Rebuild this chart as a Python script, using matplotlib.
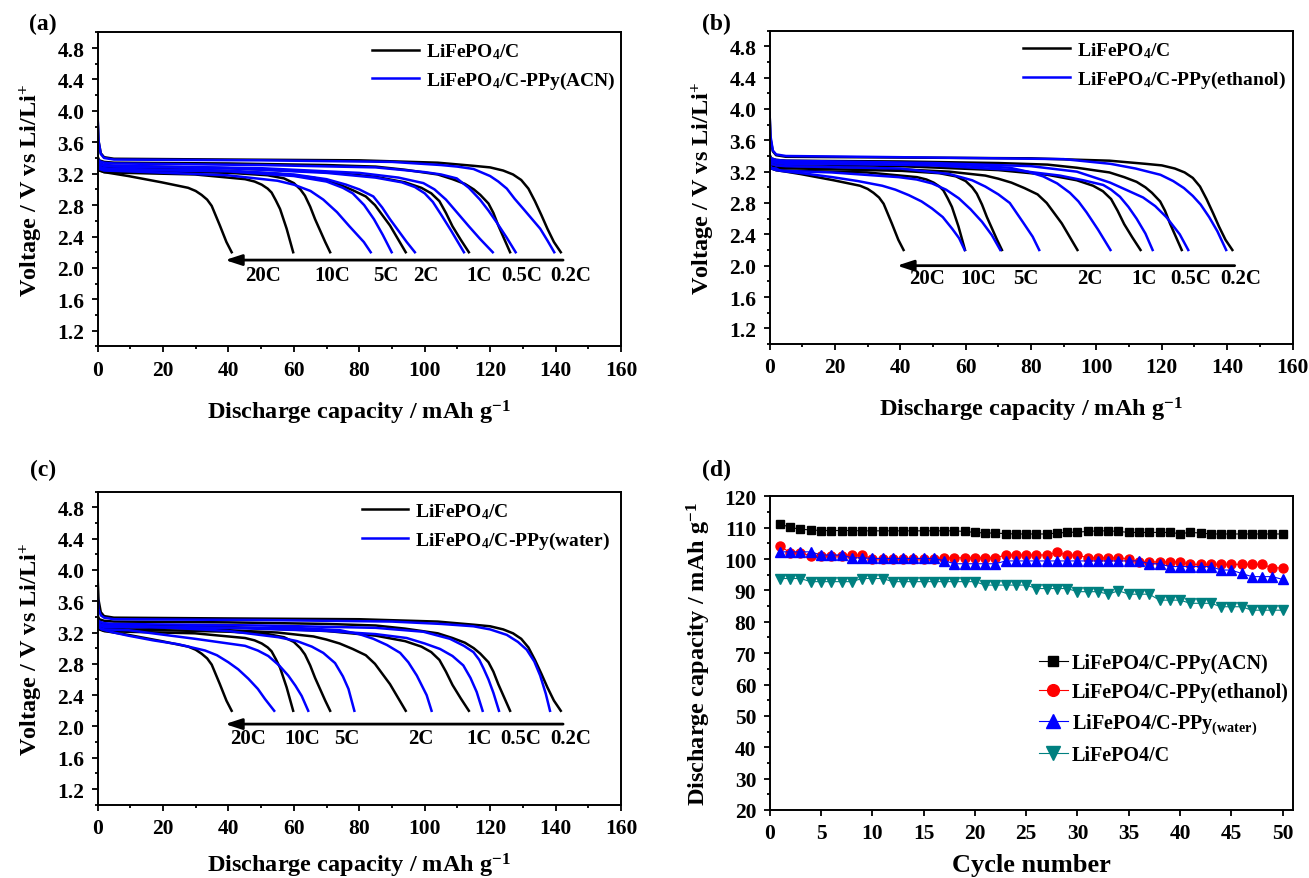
import matplotlib
matplotlib.use("Agg")
import matplotlib.pyplot as plt
from matplotlib.ticker import MultipleLocator

plt.rcParams['font.family'] = ['Liberation Serif', 'DejaVu Serif']
plt.rcParams['font.weight'] = 'bold'
plt.rcParams['axes.labelweight'] = 'bold'
plt.rcParams['mathtext.fontset'] = 'custom'
plt.rcParams['mathtext.rm'] = 'Liberation Serif:bold'
plt.rcParams['mathtext.it'] = 'Liberation Serif:italic:bold'
plt.rcParams['mathtext.bf'] = 'Liberation Serif:bold'

# ---- discharge curves: (capacity mAh/g, voltage V) ----
# bare LiFePO4/C, shared by panels a-c
lfp_02c = [(0, 3.95), (0.3, 3.62), (1, 3.46), (2, 3.41), (5, 3.39), (40, 3.38), (80, 3.37),
           (104, 3.34), (115, 3.30), (120, 3.28), (124, 3.24), (127, 3.19), (129.5, 3.12),
           (131.7, 3.01), (133.7, 2.85), (135.7, 2.67), (137.5, 2.50), (139.5, 2.33), (141.6, 2.20)]
lfp_05c = [(0, 3.42), (0.5, 3.37), (2, 3.35), (5, 3.34), (40, 3.33), (70, 3.31), (85, 3.29),
           (94, 3.25), (104, 3.19), (108.5, 3.13), (112.3, 3.07), (115, 3.00), (117, 2.93),
           (119.5, 2.82), (121, 2.70), (122.5, 2.54), (124.3, 2.37), (126.1, 2.20)]
lfp_1c = [(0, 3.38), (0.5, 3.33), (2, 3.31), (5, 3.30), (40, 3.27), (70, 3.22), (85, 3.16),
          (94, 3.09), (99, 3.02), (102, 2.95), (104.5, 2.85), (106.5, 2.70), (108.5, 2.53),
          (111, 2.36), (113.5, 2.20)]
lfp_2c = [(0, 3.35), (0.5, 3.30), (2, 3.28), (5, 3.27), (30, 3.25), (55, 3.20), (66, 3.15),
          (70, 3.11), (74, 3.06), (78, 2.99), (82, 2.91), (84.8, 2.80), (89.4, 2.54), (94.2, 2.20)]
lfp_5c = [(0, 3.32), (0.5, 3.27), (2, 3.25), (9, 3.24), (40.6, 3.21), (52, 3.18), (57, 3.14),
          (60, 3.08), (62, 3.00), (63.4, 2.92), (65, 2.78), (66.5, 2.62), (68, 2.48),
          (69.6, 2.33), (71.1, 2.20)]
lfp_10c = [(0, 3.30), (0.5, 3.24), (2, 3.22), (9, 3.21), (29.8, 3.19), (45.1, 3.13), (48, 3.10),
           (50.2, 3.06), (52, 3.01), (53.2, 2.96), (54.5, 2.86), (55.8, 2.75), (57.8, 2.50),
           (59.8, 2.20)]
lfp_20c = [(0, 3.30), (0.5, 3.25), (2, 3.22), (5, 3.20), (9.4, 3.17), (19.6, 3.09), (27.7, 3.02),
           (30, 2.98), (31.8, 2.93), (33.5, 2.87), (34.9, 2.79), (36, 2.68), (37.4, 2.54),
           (39.4, 2.33), (41.0, 2.20)]

# LiFePO4/C-PPy (ACN)
acn_02c = [(0, 3.97), (0.3, 3.62), (1, 3.45), (2, 3.40), (5, 3.38), (50, 3.37), (90, 3.35),
           (105, 3.31), (110, 3.29), (114.9, 3.26), (120, 3.17), (122.5, 3.10), (125.1, 3.01),
           (127.5, 2.88), (130.2, 2.75), (135.3, 2.50), (137.5, 2.35), (139.6, 2.20)]
acn_05c = [(0, 3.40), (0.5, 3.36), (2, 3.34), (5, 3.33), (50, 3.31), (85, 3.28), (100, 3.22),
           (105, 3.19), (109.8, 3.14), (113.5, 3.02), (116.9, 2.87), (119.5, 2.73), (122, 2.58),
           (125, 2.39), (127.8, 2.20)]
acn_1c = [(0, 3.37), (0.5, 3.33), (2, 3.31), (5, 3.30), (50, 3.27), (80, 3.21), (92, 3.15),
          (99.6, 3.08), (103, 3.00), (106.5, 2.87), (109.8, 2.71), (113.5, 2.53), (116.9, 2.37),
          (120.8, 2.20)]
acn_2c = [(0, 3.36), (0.5, 3.32), (2, 3.30), (5, 3.29), (40, 3.27), (70, 3.21), (85, 3.15),
          (93, 3.09), (97, 3.03), (100, 2.95), (102.5, 2.84), (105, 2.68), (108, 2.48),
          (110, 2.34), (112, 2.20)]
acn_5c = [(0, 3.33), (0.5, 3.29), (2, 3.27), (5, 3.26), (40, 3.24), (60, 3.19), (70, 3.13),
          (76, 3.06), (80, 3.00), (84.3, 2.91), (87, 2.77), (89.4, 2.62), (94.5, 2.33), (97, 2.20)]
acn_10c = [(0, 3.31), (0.5, 3.27), (2, 3.25), (5, 3.25), (39.7, 3.23), (60, 3.17), (70, 3.10),
           (75, 3.02), (78, 2.95), (81.5, 2.80), (84.5, 2.62), (87.2, 2.42), (89.9, 2.20)]
acn_20c = [(0, 3.30), (0.5, 3.26), (2, 3.24), (9.2, 3.23), (39.7, 3.18), (55, 3.11), (60, 3.06),
           (65.1, 2.98), (69, 2.87), (73.2, 2.71), (77, 2.53), (81.4, 2.33), (83.5, 2.20)]

# LiFePO4/C-PPy (ethanol)
eth_02c = [(0, 3.95), (0.3, 3.65), (1, 3.47), (2, 3.42), (5, 3.40), (50, 3.38), (90, 3.36),
           (104.3, 3.30), (112, 3.24), (119.6, 3.16), (123.5, 3.08), (126.8, 2.99), (129.5, 2.89),
           (131.9, 2.78), (134.5, 2.62), (137, 2.44), (139.7, 2.20)]
eth_05c = [(0, 3.40), (0.5, 3.37), (2, 3.35), (5, 3.34), (50, 3.31), (80, 3.27), (94, 3.20),
           (104.2, 3.06), (109, 2.97), (114.3, 2.87), (118, 2.76), (121.4, 2.62), (125.5, 2.40),
           (128.1, 2.20)]
eth_1c = [(0, 3.38), (0.5, 3.35), (2, 3.33), (5, 3.32), (50, 3.28), (75, 3.22), (88.8, 3.15),
          (96, 3.09), (102.1, 3.03), (104.5, 2.97), (107.2, 2.88), (109.8, 2.75), (112.3, 2.60),
          (115, 2.41), (117.2, 2.20)]
eth_2c = [(0, 3.36), (0.5, 3.33), (2, 3.31), (5, 3.30), (40, 3.29), (60, 3.28), (73.5, 3.25),
          (79, 3.20), (83.7, 3.14), (88, 3.05), (91.9, 2.93), (94.5, 2.82), (97, 2.68),
          (100.5, 2.46), (104.3, 2.20)]
eth_5c = [(0, 3.34), (0.5, 3.30), (2, 3.28), (5, 3.27), (40, 3.24), (55, 3.17), (62, 3.09),
          (66, 3.01), (70, 2.91), (73.5, 2.80), (77.6, 2.55), (80.5, 2.37), (82.5, 2.20)]
eth_10c = [(0, 3.28), (0.5, 3.24), (2, 3.22), (5, 3.21), (19, 3.19), (39.5, 3.13), (45, 3.10),
           (49.7, 3.05), (54, 2.97), (57.9, 2.86), (61.5, 2.72), (65, 2.56), (68, 2.39),
           (70.6, 2.20)]
eth_20c = [(0, 3.30), (0.5, 3.25), (2, 3.24), (3.4, 3.21), (10, 3.18), (19.2, 3.13), (27, 3.08),
           (34.5, 3.02), (38.5, 2.97), (42.6, 2.90), (46.5, 2.82), (49.7, 2.73), (53, 2.62),
           (55.9, 2.47), (58, 2.35), (59.7, 2.20)]

# LiFePO4/C-PPy (water)
wat_02c = [(0, 3.70), (0.3, 3.50), (1, 3.42), (2, 3.39), (5, 3.37), (50, 3.36), (90, 3.34),
           (105, 3.31), (114.9, 3.28), (120, 3.24), (125.1, 3.17), (128.5, 3.08), (131.2, 2.98),
           (133.5, 2.83), (135.3, 2.65), (137, 2.42), (138.3, 2.20)]
wat_05c = [(0, 3.37), (0.5, 3.34), (2, 3.32), (5, 3.31), (50, 3.29), (85, 3.26), (99.6, 3.21),
           (107.7, 3.12), (112, 3.03), (114.9, 2.95), (116.7, 2.85), (118, 2.74), (119.5, 2.60),
           (121, 2.43), (122.7, 2.20)]
wat_1c = [(0, 3.35), (0.5, 3.31), (2, 3.29), (5, 3.28), (40, 3.26), (70, 3.22), (85, 3.18),
          (94.5, 3.13), (100, 3.06), (104.7, 2.99), (108.5, 2.90), (111.8, 2.78), (114, 2.62),
          (115.9, 2.44), (117.7, 2.20)]
wat_2c = [(0, 3.33), (0.5, 3.29), (2, 3.27), (5, 3.27), (40, 3.26), (60, 3.26), (74.1, 3.23),
          (80, 3.18), (84.3, 3.12), (88.5, 3.04), (92.5, 2.94), (95, 2.82), (97.6, 2.65),
          (100.6, 2.40), (102.1, 2.20)]
wat_5c = [(0, 3.33), (0.5, 3.29), (2, 3.29), (9.4, 3.29), (40, 3.22), (55.3, 3.14), (61, 3.09),
          (65.5, 3.02), (69, 2.94), (72.6, 2.81), (75, 2.64), (76.7, 2.48), (78.5, 2.20)]
wat_10c = [(0, 3.30), (0.5, 3.26), (2, 3.24), (9.4, 3.23), (29.8, 3.12), (45.1, 3.03), (49, 2.97),
           (52.2, 2.90), (55.5, 2.78), (58.3, 2.65), (60.5, 2.52), (62.4, 2.39), (64.4, 2.20)]
wat_20c = [(0, 3.30), (0.5, 3.27), (1.3, 3.24), (5, 3.20), (9.4, 3.16), (17, 3.10), (24.7, 3.05),
           (32.9, 2.97), (36.5, 2.91), (40, 2.82), (43, 2.73), (46.1, 2.61), (49, 2.48),
           (51.2, 2.35), (54, 2.20)]

rates = ['20C', '10C', '5C', '2C', '1C', '0.5C', '0.2C']
label_x_a = [50.5, 71.7, 88.1, 100.2, 116.7, 129.7, 144.6]
label_x_b = [48.3, 63.7, 78.4, 98.1, 114.7, 129.0, 144.0]
label_x_c = [46.0, 62.5, 76.1, 98.7, 116.7, 129.4, 144.6]

# ---- cycling at 1C, panel d ----
cycles = list(range(1, 51))
cap_acn = [111.2, 110.1, 109.5, 109.3, 109.1, 109.1, 109.1, 109.1, 109.0, 109.0,
           109.0, 109.0, 109.0, 109.0, 109.0, 109.0, 109.0, 109.0, 108.8, 108.5,
           108.3, 108.3, 108.1, 108.0, 108.0, 108.0, 108.0, 108.3, 108.5, 108.6,
           108.8, 109.0, 109.0, 108.8, 108.5, 108.5, 108.5, 108.5, 108.5, 108.1,
           108.5, 108.3, 108.0, 108.0, 108.0, 108.0, 108.0, 108.0, 108.0, 108.0]
cap_eth = [104.2, 102.0, 102.0, 101.1, 101.0, 101.0, 101.1, 101.3, 101.3, 100.1,
           100.1, 100.1, 100.1, 100.1, 100.1, 100.1, 100.4, 100.4, 100.4, 100.4,
           100.4, 100.4, 101.3, 101.3, 101.3, 101.3, 101.3, 102.1, 101.3, 101.3,
           100.4, 100.4, 100.4, 100.4, 100.1, 99.1, 99.1, 99.1, 99.1, 99.1,
           98.3, 98.3, 98.3, 98.3, 98.3, 98.3, 98.3, 98.3, 97.2, 97.2]
cap_wat = [102.3, 102.3, 102.3, 102.3, 101.3, 101.3, 101.3, 100.4, 100.4, 100.2,
           100.2, 100.2, 100.2, 100.2, 100.2, 100.2, 99.5, 98.5, 98.5, 98.5,
           98.5, 98.5, 99.4, 99.4, 99.4, 99.4, 99.4, 99.4, 99.4, 99.4,
           99.4, 99.4, 99.4, 99.4, 99.4, 99.4, 98.5, 98.5, 97.6, 97.6,
           97.6, 97.6, 97.6, 96.5, 96.5, 95.4, 94.4, 94.4, 94.4, 93.5]
cap_lfp = [93.8, 93.8, 93.8, 92.8, 92.8, 92.8, 92.8, 92.8, 93.8, 93.8,
           93.8, 92.8, 92.8, 92.8, 92.8, 92.8, 92.8, 92.8, 92.8, 92.8,
           91.7, 91.7, 91.7, 91.7, 91.7, 90.6, 90.6, 90.6, 90.6, 89.6,
           89.6, 89.6, 88.8, 89.9, 88.8, 88.8, 88.8, 86.9, 86.9, 86.9,
           85.9, 85.9, 85.9, 84.8, 84.8, 84.8, 83.7, 83.7, 83.7, 83.7]

BLUE = '#0000ff'
TEAL = '#008080'
LW = 1.8

fig = plt.figure(figsize=(13.09, 8.79), dpi=100)
ax_a = fig.add_axes([0.0745, 0.6047, 0.3999, 0.3574])
ax_b = fig.add_axes([0.5879, 0.6075, 0.3995, 0.3565])
ax_c = fig.add_axes([0.0745, 0.0834, 0.3999, 0.3561])
ax_d = fig.add_axes([0.5880, 0.0774, 0.3997, 0.3568])


def style_axes(ax):
    for sp in ax.spines.values():
        sp.set_linewidth(1.4)
    ax.tick_params(which='both', direction='out', width=1.3, top=False, right=False,
                   labelsize=15.5)
    ax.tick_params(which='major', length=4.5, pad=5)
    ax.tick_params(which='minor', length=2.5)
    for lbl in ax.get_xticklabels() + ax.get_yticklabels():
        lbl.set_fontweight('bold')


def draw_rate_panel(ax, bare, coated, coated_name, arrow_y, label_x, label_y,
                    legend_x, xlabel_pad):
    for curve in bare:
        ax.plot([p[0] for p in curve], [p[1] for p in curve], color='black', lw=LW)
    for curve in coated:
        ax.plot([p[0] for p in curve], [p[1] for p in curve], color=BLUE, lw=LW)
    # legend proxies
    ax.plot([], [], color='black', lw=LW, label='LiFePO$_4$/C')
    ax.plot([], [], color=BLUE, lw=LW, label='LiFePO$_4$/C-PPy(' + coated_name + ')')
    ax.annotate('', xy=(39, arrow_y), xytext=(142.3, arrow_y),
                arrowprops=dict(arrowstyle='-|>,head_length=0.55,head_width=0.18',
                                mutation_scale=18, lw=2.0, color='black',
                                shrinkA=0, shrinkB=0))
    for name, x in zip(rates, label_x):
        ax.text(x, label_y, name, ha='center', va='center', fontsize=15, fontweight='bold')
    ax.set_xlim(0, 160)
    ax.set_ylim(1.0, 5.0)
    ax.xaxis.set_major_locator(MultipleLocator(20))
    ax.xaxis.set_minor_locator(MultipleLocator(10))
    ax.set_yticks([1.2, 1.6, 2.0, 2.4, 2.8, 3.2, 3.6, 4.0, 4.4, 4.8])
    ax.yaxis.set_minor_locator(MultipleLocator(0.2))
    ax.set_xlabel('Discharge capacity / mAh g$^{-1}$', fontsize=17.5, labelpad=xlabel_pad)
    ax.set_ylabel('Voltage / V vs Li/Li$^{+}$', fontsize=17.5, labelpad=9)
    style_axes(ax)
    ax.legend(loc='upper left', bbox_to_anchor=(legend_x, 0.995), frameon=False, fontsize=14,
              handlelength=2.4, handletextpad=0.35, labelspacing=0.45, borderaxespad=0)


bare_set = [lfp_02c, lfp_05c, lfp_1c, lfp_2c, lfp_5c, lfp_10c, lfp_20c]
draw_rate_panel(ax_a, bare_set, [acn_02c, acn_05c, acn_1c, acn_2c, acn_5c, acn_10c, acn_20c],
                'ACN', 2.10, label_x_a, 1.91, 0.51, 13)
draw_rate_panel(ax_b, bare_set, [eth_02c, eth_05c, eth_1c, eth_2c, eth_5c, eth_10c, eth_20c],
                'ethanol', 2.00, label_x_b, 1.84, 0.47, 13)
draw_rate_panel(ax_c, bare_set, [wat_02c, wat_05c, wat_1c, wat_2c, wat_5c, wat_10c, wat_20c],
                'water', 2.03, label_x_c, 1.85, 0.49, 9)

# cycling performance
ax_d.plot(cycles, cap_acn, '-s', color='black', lw=0.8, ms=6, label='LiFePO4/C-PPy(ACN)')
ax_d.plot(cycles, cap_eth, '-o', color='red', lw=0.8, ms=6.5, label='LiFePO4/C-PPy(ethanol)')
ax_d.plot(cycles, cap_wat, '-^', color=BLUE, lw=0.8, ms=7.5,
          label='LiFePO4/C-PPy$_{\\rm (water)}$')
ax_d.plot(cycles, cap_lfp, '-v', color=TEAL, lw=0.8, ms=7.5, label='LiFePO4/C')
ax_d.set_xlim(0, 51)
ax_d.set_ylim(20, 120)
ax_d.xaxis.set_major_locator(MultipleLocator(5))
ax_d.yaxis.set_major_locator(MultipleLocator(10))
ax_d.yaxis.set_minor_locator(MultipleLocator(5))
ax_d.set_xlabel('Cycle number', fontsize=19, labelpad=7)
ax_d.set_ylabel('Discharge capacity / mAh g$^{-1}$', fontsize=17.5, labelpad=8)
style_axes(ax_d)
ax_d.legend(loc='upper left', bbox_to_anchor=(0.50, 0.525), frameon=False, fontsize=14.5,
            handlelength=1.4, handletextpad=0.2, labelspacing=0.45, markerscale=1.3,
            borderaxespad=0)

for txt, x, y in [('(a)', 0.0329, 0.9727), ('(b)', 0.547, 0.9727),
                  ('(c)', 0.0329, 0.4653), ('(d)', 0.547, 0.4653)]:
    fig.text(x, y, txt, ha='center', va='center', fontsize=17, fontweight='bold')

fig.savefig('out.png', dpi=100)
